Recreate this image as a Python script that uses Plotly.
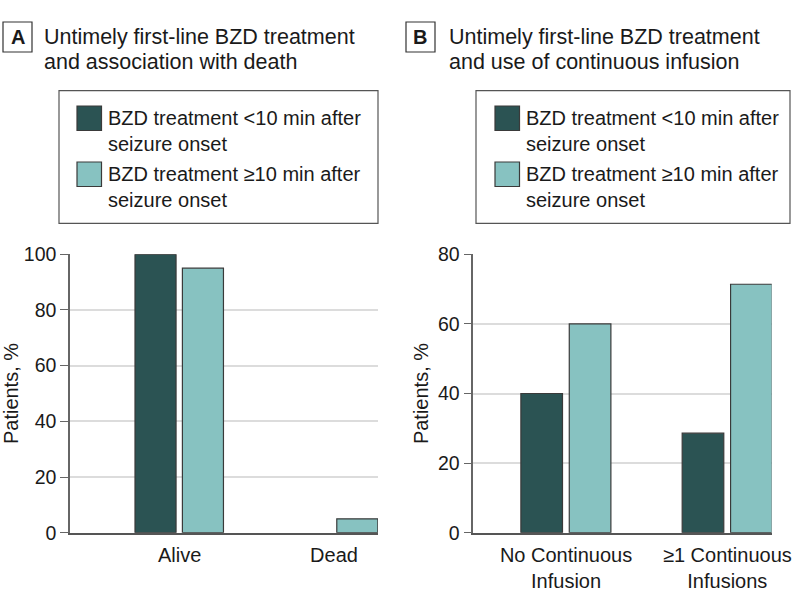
import plotly.graph_objects as go

# ---- data ----
series_names = ["BZD treatment <10 min after<br>seizure onset",
                "BZD treatment ≥10 min after<br>seizure onset"]
a_categories = ["Alive", "Dead"]
a_early = [100, 0]
a_late = [95, 5]
b_categories = ["No Continuous<br>Infusion", "≥1 Continuous<br>Infusions"]
b_early = [40, 28.6]
b_late = [60, 71.4]
a_title = "Untimely first-line BZD treatment<br>and association with death"
b_title = "Untimely first-line BZD treatment<br>and use of continuous infusion"
y_label = "Patients, %"

DARK = "#2b5353"
LIGHT = "#87c2c1"
EDGE = "#3a3a3a"
TXT = "#1a1a1a"
FONT = "Liberation Sans"
W, H = 798, 609


def px(x):
    return x / W


def py(y):
    return 1 - y / H


def edge_widths(vals):
    return [0 if v == 0 else 1.2 for v in vals]


fig = go.Figure()
# Panel A
fig.add_trace(go.Bar(x=a_categories, y=a_early, name=series_names[0],
                     marker=dict(color=DARK, line=dict(color=EDGE, width=edge_widths(a_early))),
                     width=0.266, offset=-0.289, xaxis="x", yaxis="y", showlegend=False))
fig.add_trace(go.Bar(x=a_categories, y=a_late, name=series_names[1],
                     marker=dict(color=LIGHT, line=dict(color=EDGE, width=edge_widths(a_late))),
                     width=0.266, offset=0.018, xaxis="x", yaxis="y", showlegend=False))
# Panel B
fig.add_trace(go.Bar(x=b_categories, y=b_early, name=series_names[0],
                     marker=dict(color=DARK, line=dict(color=EDGE, width=edge_widths(b_early))),
                     width=0.258, offset=-0.28, xaxis="x2", yaxis="y2", showlegend=False))
fig.add_trace(go.Bar(x=b_categories, y=b_late, name=series_names[1],
                     marker=dict(color=LIGHT, line=dict(color=EDGE, width=edge_widths(b_late))),
                     width=0.258, offset=0.02, xaxis="x2", yaxis="y2", showlegend=False))

ydom = [py(532.7), py(254.3)]
common_x = dict(showgrid=False, showline=True, linecolor="#555555", linewidth=1.5, ticks="",
                ticklabelstandoff=4, automargin=False,
                tickfont=dict(size=20, color=TXT, family=FONT), zeroline=False, fixedrange=True)
common_y = dict(showgrid=True, gridcolor="#dcdcdc", gridwidth=1.5, showline=True, linecolor="#666666", linewidth=1.5,
                ticks="outside", ticklen=8, tickcolor="#666666", tickwidth=1.2, automargin=False,
                tickfont=dict(size=19.5, color=TXT, family=FONT), zeroline=False,
                title=dict(text=y_label, font=dict(size=20, color=TXT, family=FONT), standoff=4))

fig.update_layout(
    width=W, height=H, margin=dict(l=0, r=0, t=0, b=0, autoexpand=False),
    paper_bgcolor="white", plot_bgcolor="white",
    font=dict(family=FONT, color=TXT),
    xaxis=dict(domain=[px(70), px(378)], range=[-0.71, 1.285], anchor="y", **common_x),
    yaxis=dict(domain=ydom, range=[0, 100], tickvals=[0, 20, 40, 60, 80, 100], anchor="x", **common_y),
    xaxis2=dict(domain=[px(473.3), px(771.7)], range=[-0.575, 1.275], anchor="y2", **common_x),
    yaxis2=dict(domain=ydom, range=[0, 80], tickvals=[0, 20, 40, 60, 80], anchor="x2", **common_y),
)

shapes = []
annotations = []
panels = [
    dict(letter="A", title=a_title, box_x=3, title_x=43, leg=(59, 378), sw_x=77, txt_x=107),
    dict(letter="B", title=b_title, box_x=406, title_x=448, leg=(476, 790), sw_x=495, txt_x=525),
]
for p in panels:
    # letter box
    shapes.append(dict(type="rect", xref="paper", yref="paper", x0=px(p["box_x"]), x1=px(p["box_x"] + 29),
                       y0=py(52), y1=py(22), line=dict(color="#333333", width=1.2)))
    annotations.append(dict(text="<b>" + p["letter"] + "</b>", xref="paper", yref="paper",
                            x=px(p["box_x"] + 14.5), y=py(37.5), xanchor="center", yanchor="middle",
                            showarrow=False, font=dict(size=20, family=FONT, color=TXT)))
    # title, one annotation per line for tight line spacing
    for j, line in enumerate(p["title"].split("<br>")):
        annotations.append(dict(text=line, xref="paper", yref="paper", x=px(p["title_x"] - 1), y=py(37.5 + 24.5 * j),
                                xanchor="left", yanchor="middle", align="left", showarrow=False,
                                font=dict(size=21.5, family=FONT, color=TXT)))
    # legend box
    shapes.append(dict(type="rect", xref="paper", yref="paper", x0=px(p["leg"][0]), x1=px(p["leg"][1]),
                       y0=py(223.3), y1=py(90.7), line=dict(color="#555555", width=1.2)))
    for i, (name, col) in enumerate(zip(series_names, [DARK, LIGHT])):
        top = 106 + i * 56
        shapes.append(dict(type="rect", xref="paper", yref="paper", x0=px(p["sw_x"]), x1=px(p["sw_x"] + 24.5),
                           y0=py(top + 24.5), y1=py(top), fillcolor=col, line=dict(color=EDGE, width=1.2)))
        annotations.append(dict(text=name, xref="paper", yref="paper", x=px(p["txt_x"] - 1), y=py(top + 25),
                                xanchor="left", yanchor="middle", align="left", showarrow=False,
                                font=dict(size=20, family=FONT, color=TXT)))

fig.update_layout(shapes=shapes, annotations=annotations)
fig.write_html("out.html", config={"displayModeBar": False},
               post_script="document.body.style.margin='0';document.body.style.overflow='hidden';")
